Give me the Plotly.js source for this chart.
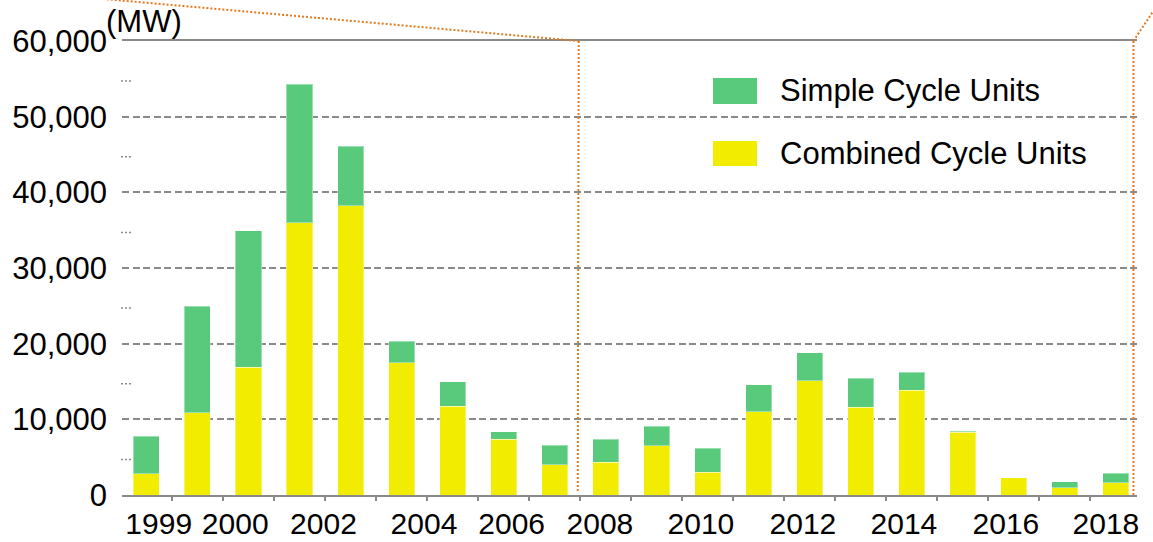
<!DOCTYPE html>
<html><head><meta charset="utf-8">
<script src="https://cdn.plot.ly/plotly-3.0.1.min.js"></script>
<style>html,body{margin:0;padding:0;background:#fff}#chart{width:1153px;height:542px}</style>
</head><body><div id="chart"></div>
<script>
const years = [1999, 2000, 2001, 2002, 2003, 2004, 2005, 2006, 2007, 2008, 2009, 2010, 2011, 2012, 2013, 2014, 2015, 2016, 2017, 2018];
const combinedCycle = [2800, 10900, 16900, 36000, 38200, 17500, 11700, 7350, 4000, 4300, 6500, 3000, 11000, 15100, 11600, 13850, 8300, 2250, 930, 1600];
const simpleCycle = [4950, 14050, 18050, 18300, 7900, 2850, 3250, 1020, 2600, 3100, 2600, 3200, 3550, 3700, 3850, 2350, 150, 0, 830, 1300];
const seriesNames = ['Combined Cycle Units', 'Simple Cycle Units'];
const xTickLabels = ['1999', '2000', '2002', '2004', '2006', '2008', '2010', '2012', '2014', '2016', '2018'];
const yTickValues = [0, 10000, 20000, 30000, 40000, 50000, 60000];
const yTickLabels = ['0', '10,000', '20,000', '30,000', '40,000', '50,000', '60,000'];
const unitLabel = '(MW)';

// layout-only: where the year labels sit along the axis (as in the original)
const xLabelPos = [1999.24, 2000.74, 2002.47, 2004.44, 2006.16, 2007.89, 2009.87, 2011.87, 2013.85, 2015.85, 2017.81];

const GREEN = '#59C97B', YELLOW = '#F2EC00', GRAY = '#8a8a8a', ORANGE = '#E27A22';
const FONT = 'Liberation Sans, Arial, sans-serif';

const traces = [
  {type: 'bar', x: years, y: combinedCycle, name: seriesNames[0], width: 0.51,
   marker: {color: YELLOW, line: {width: 1, color: 'rgba(255,255,255,0.4)'}}, hoverinfo: 'x+y+name'},
  {type: 'bar', x: years, y: simpleCycle, name: seriesNames[1], width: 0.51,
   marker: {color: GREEN, line: {width: 1, color: 'rgba(255,255,255,0.4)'}}, hoverinfo: 'x+y+name'}
];

const shapes = [];
// small dotted marks at the half-steps of the y axis
for (let v = 5000; v < 60000; v += 10000) {
  shapes.push({type: 'line', xref: 'paper', yref: 'y', x0: -0.001, x1: 0.009, y0: v - 300, y1: v - 300,
    line: {color: GRAY, width: 1.5, dash: '2px,2px'}});
}
// orange dotted zoom lines
const dotted = {color: ORANGE, width: 2, dash: '2px,2px'};
shapes.push({type: 'line', xref: 'paper', yref: 'paper', x0: -0.015, y0: 1.092, x1: 0.450, y1: 1.0, line: dotted});
shapes.push({type: 'line', xref: 'paper', yref: 'paper', x0: 0.450, y0: 1.0, x1: 0.449, y1: 0.005, line: dotted});
shapes.push({type: 'line', xref: 'paper', yref: 'paper', x0: 0.9965, y0: 1.0, x1: 0.9965, y1: 0.0, line: dotted});
shapes.push({type: 'line', xref: 'paper', yref: 'paper', x0: 0.9965, y0: 1.0, x1: 1.0155, y1: 1.064, line: dotted});
// legend swatches
shapes.push({type: 'rect', xref: 'paper', yref: 'paper', x0: 0.5823, x1: 0.6256, y0: 0.8612, y1: 0.9185,
  fillcolor: GREEN, line: {width: 0}});
shapes.push({type: 'rect', xref: 'paper', yref: 'paper', x0: 0.5823, x1: 0.6256, y0: 0.7247, y1: 0.7797,
  fillcolor: YELLOW, line: {width: 0}});

const annotations = [
  {xref: 'paper', yref: 'paper', x: 0.6463, y: 0.892, xanchor: 'left', yanchor: 'middle', showarrow: false,
   text: seriesNames[1], font: {family: FONT, size: 31, color: '#000'}},
  {xref: 'paper', yref: 'paper', x: 0.6463, y: 0.7533, xanchor: 'left', yanchor: 'middle', showarrow: false,
   text: seriesNames[0], font: {family: FONT, size: 31, color: '#000'}},
  {xref: 'paper', yref: 'paper', x: -0.0175, y: 1.043, xanchor: 'left', yanchor: 'middle', showarrow: false,
   text: unitLabel, font: {family: FONT, size: 31, color: '#000'}}
];

const layout = {
  width: 1153, height: 542,
  margin: {l: 122, r: 16, t: 41, b: 47, pad: 0},
  paper_bgcolor: '#fff', plot_bgcolor: '#fff',
  barmode: 'stack', showlegend: false,
  font: {family: FONT, color: '#000'},
  xaxis: {
    type: 'linear', range: [1998.52, 2018.42], fixedrange: true,
    tickmode: 'array', tickvals: xLabelPos, ticktext: xTickLabels, ticks: '',
    tickfont: {family: FONT, size: 30, color: '#000'}, ticklabelstandoff: 1,
    showgrid: false, zeroline: false,
    showline: true, linecolor: GRAY, linewidth: 2, mirror: true,
    minor: {tick0: 1998.5, dtick: 1, ticks: 'outside', ticklen: 4, tickwidth: 2, tickcolor: GRAY, showgrid: false}
  },
  yaxis: {
    range: [0, 60000], fixedrange: true,
    tickmode: 'array', tickvals: yTickValues, ticktext: yTickLabels, ticks: '',
    tickfont: {family: FONT, size: 31, color: '#000'}, ticklabelstandoff: 14,
    showgrid: true, gridcolor: GRAY, gridwidth: 2, griddash: '7px,3.5px',
    zeroline: false, showline: false
  },
  shapes: shapes,
  annotations: annotations
};

Plotly.newPlot('chart', traces, layout, {displayModeBar: false, staticPlot: true});
</script>
</body></html>
